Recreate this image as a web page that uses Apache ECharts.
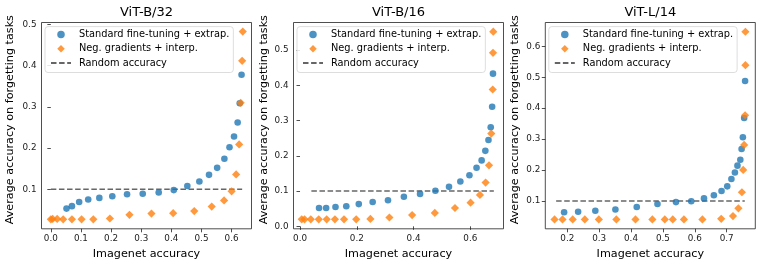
<!DOCTYPE html>
<html>
<head>
<meta charset="utf-8">
<script src="https://cdn.jsdelivr.net/npm/echarts@6/dist/echarts.min.js"></script>
<style>
html,body{margin:0;padding:0;background:#fff;}
#c{width:762px;height:265px;}
</style>
</head>
<body>
<div id="c"></div>
<script>
// ---- Data ----
const titles = ['ViT-B/32', 'ViT-B/16', 'ViT-L/14'];
const seriesNames = ['Standard fine-tuning + extrap.', 'Neg. gradients + interp.', 'Random accuracy'];
const xLabelText = 'Imagenet accuracy';
const yLabelText = 'Average accuracy on forgetting tasks';

// ViT-B/32
const b32StdX = [0.052,0.070,0.094,0.124,0.161,0.204,0.253,0.305,0.358,0.408,0.453,0.493,0.525,0.552,0.576,0.593,0.608,0.620,0.627,0.633];
const b32StdY = [0.053,0.059,0.069,0.075,0.079,0.083,0.088,0.089,0.092,0.098,0.108,0.119,0.135,0.152,0.174,0.202,0.228,0.262,0.309,0.378];
const b32NegX = [0.000,0.006,0.021,0.041,0.070,0.102,0.141,0.196,0.261,0.334,0.406,0.476,0.534,0.575,0.600,0.615,0.625,0.630,0.635,0.637];
const b32NegY = [0.027,0.028,0.028,0.027,0.027,0.027,0.027,0.029,0.038,0.041,0.042,0.047,0.058,0.073,0.095,0.136,0.209,0.310,0.412,0.483];
const b32RandX = [0.0, 0.635];
const b32RandY = [0.1, 0.1];

// ViT-B/16
const b16StdX = [0.067,0.092,0.125,0.163,0.207,0.256,0.310,0.366,0.423,0.477,0.525,0.565,0.597,0.622,0.640,0.653,0.664,0.672,0.677,0.680];
const b16StdY = [0.052,0.052,0.055,0.057,0.063,0.069,0.074,0.084,0.092,0.101,0.112,0.127,0.145,0.166,0.187,0.214,0.245,0.281,0.339,0.433];
const b16NegX = [0.006,0.016,0.038,0.066,0.094,0.123,0.155,0.198,0.248,0.315,0.395,0.475,0.546,0.601,0.634,0.654,0.666,0.674,0.679,0.680,0.681];
const b16NegY = [0.020,0.020,0.020,0.020,0.020,0.020,0.020,0.020,0.021,0.025,0.032,0.038,0.052,0.067,0.089,0.124,0.173,0.263,0.388,0.492,0.552];
const b16RandX = [0.04, 0.683];
const b16RandY = [0.1, 0.1];

// ViT-L/14
const l14StdX = [0.190,0.234,0.288,0.351,0.418,0.483,0.541,0.589,0.629,0.660,0.684,0.702,0.715,0.726,0.734,0.743,0.747,0.751,0.755,0.758];
const l14StdY = [0.063,0.065,0.068,0.072,0.080,0.090,0.096,0.099,0.108,0.118,0.132,0.147,0.171,0.192,0.214,0.233,0.268,0.306,0.368,0.488];
const l14NegX = [0.160,0.185,0.217,0.255,0.299,0.354,0.414,0.467,0.506,0.531,0.566,0.624,0.683,0.720,0.737,0.748,0.752,0.755,0.758,0.759,0.759];
const l14NegY = [0.040,0.040,0.040,0.040,0.040,0.040,0.040,0.040,0.040,0.040,0.040,0.040,0.042,0.051,0.076,0.128,0.200,0.281,0.377,0.539,0.647];
const l14RandX = [0.165, 0.757];
const l14RandY = [0.1, 0.1];

// tick labels
const xTicks = [[0.0,0.1,0.2,0.3,0.4,0.5,0.6],[0.0,0.2,0.4,0.6],[0.2,0.3,0.4,0.5,0.6,0.7]];
const yTicks = [[0.1,0.2,0.3,0.4,0.5],[0.0,0.1,0.2,0.3,0.4,0.5],[0.1,0.2,0.3,0.4,0.5,0.6]];

const panels = [
  {std:[b32StdX,b32StdY], neg:[b32NegX,b32NegY], rand:[b32RandX,b32RandY]},
  {std:[b16StdX,b16StdY], neg:[b16NegX,b16NegY], rand:[b16RandX,b16RandY]},
  {std:[l14StdX,l14StdY], neg:[l14NegX,l14NegY], rand:[l14RandX,l14RandY]}
];

// ---- Layout (styles) ----
const FONT = 'DejaVu Sans';
const gridLeft = [41.5, 293.5, 545.3];
const gridTop = 22.5, gridW = 210, gridH = 206.3;
const xRange = [[-0.031,0.666],[-0.023,0.717],[0.131,0.790]];
const yRange = [[0.004,0.505],[-0.007,0.578],[0.0097,0.677]];
const yNameGap = [26, 24, 25];
const BLUE = '#1f77b4', ORANGE = '#ff7f0e', GRAY = '#555';
const DIAMOND_ICON = 'path://M5,0L10,5L5,10L0,5Z';

const zip = (a,b) => a.map((v,i)=>[v,b[i]]);

const legendData = [
  {name: seriesNames[0], icon: 'circle'},
  {name: seriesNames[1], icon: DIAMOND_ICON},
  {name: seriesNames[2], itemStyle: {opacity: 0}}
];

const option = {
  animation: false,
  backgroundColor: '#fff',
  textStyle: {fontFamily: FONT},
  title: titles.map((t,i)=>({
    text: t, left: gridLeft[i] + gridW/2, top: 6, textAlign: 'center', padding: 0,
    textStyle: {fontFamily: FONT, fontSize: 13, fontWeight: 'normal', color: '#000'}
  })),
  legend: titles.map((t,i)=>({
    data: legendData,
    orient: 'vertical',
    left: gridLeft[i] + 3.5, top: 26.6,
    padding: [3, 4, 4.5, 5],
    itemWidth: 20, itemHeight: 7.5, itemGap: 4.2,
    symbolKeepAspect: true,
    borderColor: '#d4d4d4', borderWidth: 0.8, borderRadius: 3,
    backgroundColor: 'rgba(255,255,255,0.85)',
    selectedMode: false,
    textStyle: {fontFamily: FONT, fontSize: 9.8, color: '#000', lineHeight: 10, padding: [0,0,0,3]}
  })),
  grid: titles.map((t,i)=>({
    left: gridLeft[i], top: gridTop, width: gridW, height: gridH,
    show: true, borderColor: '#222', borderWidth: 0.8, backgroundColor: 'transparent'
  })),
  xAxis: titles.map((t,i)=>({
    type: 'value', gridIndex: i, min: xRange[i][0], max: xRange[i][1],
    name: xLabelText, nameLocation: 'middle', nameGap: 16.5,
    nameTextStyle: {fontFamily: FONT, fontSize: 11.2, color: '#000'},
    axisLine: {show: false},
    splitLine: {show: false},
    axisTick: {show: true, inside: false, length: 3.5, customValues: xTicks[i], lineStyle: {color: '#222', width: 0.8}},
    axisLabel: {customValues: xTicks[i], formatter: v => v.toFixed(1), fontFamily: FONT, fontSize: 8.8, color: '#222', margin: 5.5}
  })),
  yAxis: titles.map((t,i)=>({
    type: 'value', gridIndex: i, min: yRange[i][0], max: yRange[i][1],
    name: yLabelText, nameLocation: 'middle', nameRotate: 90, nameGap: yNameGap[i],
    nameTextStyle: {fontFamily: FONT, fontSize: 11.2, color: '#000', padding: [0,0,0,12]},
    axisLine: {show: false},
    splitLine: {show: false},
    axisTick: {show: true, inside: false, length: 3.5, customValues: yTicks[i], lineStyle: {color: '#222', width: 0.8}},
    axisLabel: {customValues: yTicks[i], formatter: v => v.toFixed(1), fontFamily: FONT, fontSize: 8.8, color: '#222', margin: 5}
  })),
  series: []
};

panels.forEach((p,i)=>{
  option.series.push({
    name: seriesNames[0], type: 'scatter', xAxisIndex: i, yAxisIndex: i,
    symbol: 'circle', symbolSize: 6.6, symbolKeepAspect: true,
    itemStyle: {color: BLUE, opacity: 0.8},
    data: zip(p.std[0], p.std[1]), z: 2
  });
  option.series.push({
    name: seriesNames[1], type: 'scatter', xAxisIndex: i, yAxisIndex: i,
    symbol: 'diamond', symbolSize: 8.2,
    itemStyle: {color: ORANGE, opacity: 0.8},
    data: zip(p.neg[0], p.neg[1]), z: 3
  });
  option.series.push({
    name: seriesNames[2], type: 'line', xAxisIndex: i, yAxisIndex: i,
    symbol: 'none', silent: true,
    itemStyle: {color: GRAY},
    lineStyle: {color: GRAY, width: 1.5, type: [5.5, 2.6], opacity: 0.9},
    data: zip(p.rand[0], p.rand[1]), z: 1
  });
});

const chart = echarts.init(document.getElementById('c'), null, {renderer: 'canvas'});
chart.setOption(option);
</script>
</body>
</html>
